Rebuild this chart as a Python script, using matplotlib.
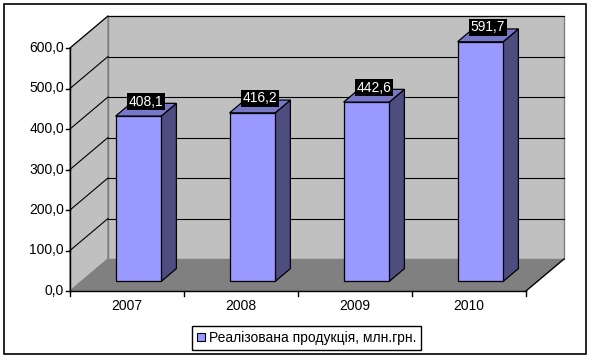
import matplotlib
matplotlib.use('Agg')
import matplotlib.pyplot as plt
from matplotlib.patches import Polygon, Patch, Rectangle
from matplotlib.lines import Line2D
from matplotlib.transforms import IdentityTransform

# data
years = ['2007', '2008', '2009', '2010']
sales = [408.1, 416.2, 442.6, 591.7]
value_labels = ['408,1', '416,2', '442,6', '591,7']
y_ticks = [0, 100, 200, 300, 400, 500, 600]
y_tick_labels = ['0,0', '100,0', '200,0', '300,0', '400,0', '500,0', '600,0']
series_name = 'Реалізована продукція, млн.грн.'

plt.rcParams['font.family'] = ['Liberation Sans', 'DejaVu Sans']

W, H, DPI = 592, 360, 100
fig = plt.figure(figsize=(W / DPI, H / DPI), dpi=DPI)
fig.patch.set_facecolor('white')

# front plane of the 3d box
ax = fig.add_axes([70 / W, (H - 291) / H, 456 / W, 243 / H])
ax.set_xlim(0, len(years))
ax.set_ylim(0, 600)
ax.axis('off')

DX, DY = 38, 32   # depth shift in pixels
ident = IdentityTransform()
z = [1]


def pt(x, y, d=0.0):
    # data point on depth d (0 = front, 1 = back) -> display pixels
    px, py = ax.transData.transform((x, y))
    return (px + d * DX, py + d * DY)


def poly(points, fc, ec='none', lw=0.8):
    z[0] += 1
    ax.add_patch(Polygon(points, closed=True, fc=fc, ec=ec, lw=lw,
                         transform=ident, clip_on=False, zorder=z[0],
                         antialiased=True))


def line(p1, p2, color='black', lw=0.8):
    z[0] += 1
    ax.add_line(Line2D([p1[0], p2[0]], [p1[1], p2[1]], color=color, lw=lw,
                       transform=ident, clip_on=False, zorder=z[0]))


n = len(years)
top = y_ticks[-1]

# walls and floor
poly([pt(0, 0, 1), pt(n, 0, 1), pt(n, top, 1), pt(0, top, 1)], '#c0c0c0', '#808080', 1)
poly([pt(0, 0, 0), pt(0, 0, 1), pt(0, top, 1), pt(0, top, 0)], '#c0c0c0', '#808080', 1)
poly([pt(0, 0, 0), pt(n, 0, 0), pt(n, 0, 1), pt(0, 0, 1)], '#808080')

# gridlines on back and side wall
for v in y_ticks[1:]:
    line(pt(0, v, 1), pt(n, v, 1))
    line(pt(0, v, 0), pt(0, v, 1))

# axes lines
line(pt(0, 0, 0), pt(0, top, 0), lw=1)
line(pt(0, 0, 0), pt(n, 0, 0), lw=1)
line(pt(n, 0, 0), pt(n, 0, 1), lw=1)

for v, lab in zip(y_ticks, y_tick_labels):
    x0, y0 = pt(0, v)
    line((x0 - 4, y0), (x0, y0), lw=1)
    ax.text(x0 - 6, y0, lab, transform=ident, ha='right', va='center',
            fontsize=10, color='black')

for i in range(n + 1):
    x0, y0 = pt(i, 0)
    line((x0, y0), (x0, y0 - 5), lw=1)

for i, yr in enumerate(years):
    x0, y0 = pt(i + 0.5, 0)
    ax.text(x0, y0 - 15, yr, transform=ident, ha='center', va='center',
            fontsize=10, color='black')

# bars
d0, d1 = 0.3, 0.7
for i, v in enumerate(sales):
    a, b = i + 0.3, i + 0.7
    poly([pt(b, 0, d0), pt(b, 0, d1), pt(b, v, d1), pt(b, v, d0)], '#4d4d80', 'black', 0.9)
    poly([pt(a, v, d0), pt(b, v, d0), pt(b, v, d1), pt(a, v, d1)], '#7878c8', 'black', 0.9)
    poly([pt(a, 0, d0), pt(b, 0, d0), pt(b, v, d0), pt(a, v, d0)], '#9999ff', 'black', 0.9)

for i, (v, lab) in enumerate(zip(sales, value_labels)):
    x0, y0 = pt(i + 0.5, v, 0.5)
    ax.text(x0, y0 + 8, lab, transform=ident, ha='center', va='center',
            fontsize=10, color='white', zorder=100,
            bbox=dict(boxstyle='square,pad=0.12', fc='black', ec='none'))

# legend
leg = fig.legend(handles=[Patch(fc='#9999ff', ec='black', lw=0.8, label=series_name)],
                 loc='center', bbox_to_anchor=(306.5 / W, 22 / H),
                 frameon=True, fancybox=False, edgecolor='black', framealpha=1,
                 fontsize=10, handlelength=0.55, handleheight=0.55,
                 handletextpad=0.3, borderpad=0.35, borderaxespad=0)
leg.get_frame().set_linewidth(1)

# outer chart border
fig.add_artist(Rectangle((4 / W, 6 / H), 582 / W, 350 / H, transform=fig.transFigure,
                         fill=False, ec='black', lw=1.2))

fig.savefig('out.png', dpi=DPI)
